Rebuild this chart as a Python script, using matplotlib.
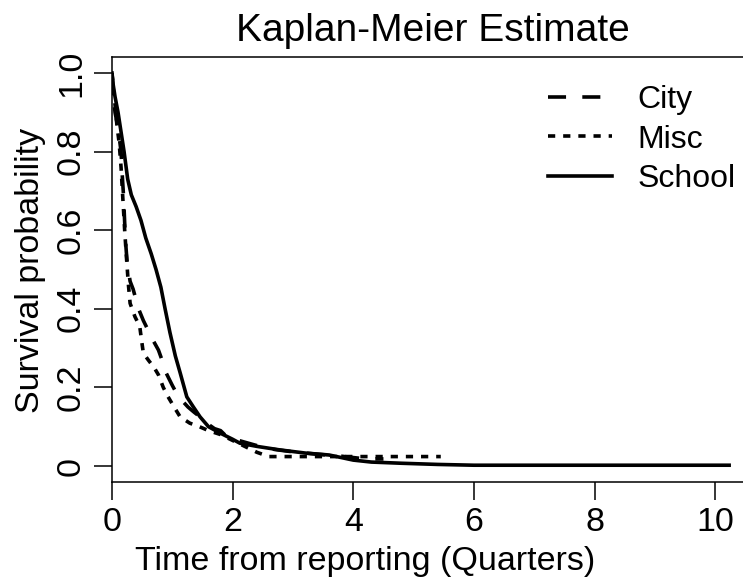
import matplotlib
matplotlib.use("Agg")
import matplotlib.pyplot as plt

plt.rcParams['font.family'] = ['Liberation Sans', 'DejaVu Sans']

# Kaplan-Meier curves (time in quarters, survival)
city_t = [0, 0.02, 0.05, 0.1, 0.15, 0.17, 0.19, 0.21, 0.23, 0.25, 0.3, 0.35, 0.44, 0.52,
          0.6, 0.68, 0.77, 0.84, 0.9, 1.0, 1.07, 1.17, 1.26, 1.36, 1.46, 1.57, 1.7, 1.8,
          1.9, 2.1, 2.4, 2.7, 3.0, 3.4, 3.8, 4.2, 4.5]
city_s = [1.0, 0.95, 0.90, 0.86, 0.80, 0.74, 0.69, 0.62, 0.56, 0.52, 0.47, 0.45, 0.40, 0.37,
          0.345, 0.32, 0.295, 0.265, 0.236, 0.205, 0.185, 0.165, 0.15, 0.137, 0.125, 0.109,
          0.095, 0.09, 0.075, 0.065, 0.052, 0.042, 0.036, 0.03, 0.025, 0.018, 0.018]

misc_t = [0, 0.02, 0.05, 0.08, 0.12, 0.15, 0.18, 0.21, 0.24, 0.27, 0.3, 0.38, 0.46, 0.49,
          0.52, 0.6, 0.7, 0.77, 0.85, 0.93, 1.03, 1.13, 1.29, 1.45, 1.6, 1.8, 2.0, 2.2,
          2.4, 2.6, 5.45]
misc_s = [1.0, 0.96, 0.92, 0.87, 0.82, 0.76, 0.68, 0.60, 0.53, 0.465, 0.414, 0.38, 0.355,
          0.32, 0.287, 0.27, 0.25, 0.232, 0.20, 0.176, 0.15, 0.125, 0.109, 0.10, 0.09,
          0.08, 0.065, 0.05, 0.035, 0.024, 0.024]

school_t = [0, 0.02, 0.05, 0.1, 0.15, 0.2, 0.26, 0.32, 0.4, 0.48, 0.56, 0.65, 0.73, 0.81,
            0.88, 0.96, 1.05, 1.13, 1.24, 1.35, 1.46, 1.6, 1.79, 2.0, 2.12, 2.4, 2.78, 3.2,
            3.6, 4.0, 4.3, 4.8, 5.4, 6.0, 10.23]
school_s = [1.0, 0.97, 0.94, 0.90, 0.85, 0.80, 0.73, 0.69, 0.66, 0.625, 0.58, 0.54, 0.50,
            0.455, 0.40, 0.34, 0.28, 0.237, 0.176, 0.15, 0.125, 0.10, 0.084, 0.068, 0.058,
            0.05, 0.041, 0.033, 0.028, 0.015, 0.01, 0.007, 0.004, 0.002, 0.002]

xticks = [0, 2, 4, 6, 8, 10]
yticks = [0, 0.2, 0.4, 0.6, 0.8, 1.0]
ytick_labels = ["0", "0.2", "0.4", "0.6", "0.8", "1.0"]

W, H = 743, 579
fig = plt.figure(figsize=(W / 100, H / 100), dpi=100)
ax = fig.add_axes([112 / W, 1 - 482 / H, 1 - 112 / W, (482 - 57) / H])

# many small steps in the original look like a smooth line, so connect the points
lw = 2.6
ax.plot(city_t, city_s, color='black', lw=lw, dashes=(5, 4.5), label='City')
ax.plot(misc_t, misc_s, color='black', lw=lw, dashes=(2, 2.2), label='Misc')
ax.plot(school_t, school_s, color='black', lw=lw, label='School')

ax.set_xlim(0, 10.46)
ax.set_ylim(-0.0407, 1.0407)
ax.set_xticks(xticks)
ax.set_yticks(yticks)
ax.set_yticklabels(ytick_labels, rotation=90, va='center')
ax.tick_params(labelsize=24.5, length=13, width=1.1, pad=5)
for side in ['left', 'bottom', 'top']:
    ax.spines[side].set_linewidth(1.1)
ax.spines['right'].set_visible(False)

fig.text(433 / W, 1 - 41 / H, "Kaplan-Meier Estimate", ha='center', va='baseline',
         fontsize=28)
fig.text(365 / W, 1 - 570 / H, "Time from reporting (Quarters)", ha='center',
         va='baseline', fontsize=24.5)
fig.text(15 / W, 1 - 270 / H, "Survival probability", ha='left', va='center',
         rotation=90, fontsize=24.5)

ax.legend(loc='upper left', bbox_to_anchor=(548 / W, 1 - 85 / H),
          bbox_transform=fig.transFigure, frameon=False, fontsize=23,
          handlelength=2.0, handletextpad=0.8, labelspacing=0.3,
          borderpad=0, borderaxespad=0)

fig.savefig("out.png", dpi=100)
